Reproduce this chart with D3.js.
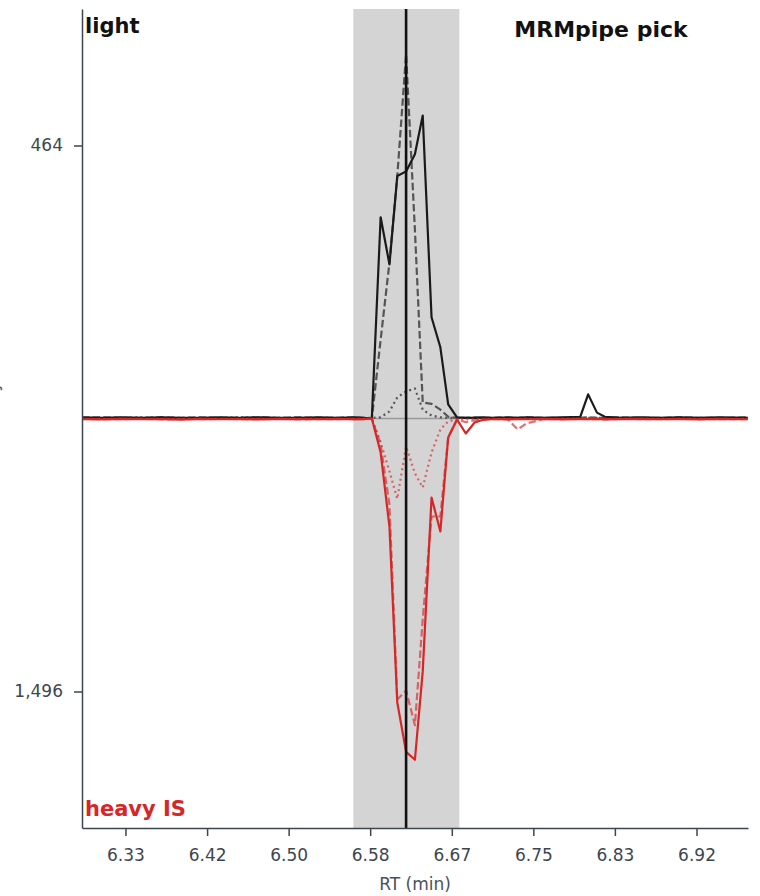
<!DOCTYPE html>
<html lang="en">
<head>
<meta charset="UTF-8">
<title>MRMpipe pick</title>
<script src="https://d3js.org/d3.v7.min.js"></script>
<style>
    body { margin: 0; background: #fff; }
    svg { display: block; font-family: "DejaVu Sans", sans-serif; }
    .axis path, .axis line { stroke: #3c4650; stroke-width: 1.5; }
    .axis text { fill: #3c4650; font-size: 17px; font-family: "DejaVu Sans", sans-serif; }
</style>
</head>
<body>
<svg width="760" height="896"></svg>
<script>
// retention times (min)
const rt = [6.289, 6.31, 6.33, 6.35, 6.37, 6.39, 6.41, 6.43, 6.45, 6.47, 6.49, 6.51, 6.53, 6.55, 6.568, 6.576,
    6.585, 6.594, 6.603, 6.611, 6.620, 6.629, 6.637, 6.646, 6.655, 6.663, 6.672, 6.681, 6.690, 6.698,
    6.707, 6.716, 6.724, 6.734, 6.743, 6.76, 6.78, 6.798, 6.806, 6.815, 6.823, 6.84, 6.86, 6.88, 6.90, 6.92, 6.94, 6.969];

// light transitions (plotted upwards)
const lightSolid = [2, 1, 2, 1, 2, 1, 1, 2, 1, 2, 1, 1, 2, 1, 2, 1,
    0, 342, 262, 412, 420, 449, 515, 172, 121, 24, 2, 1, 1, 2,
    1, 1, 2, 1, 2, 1, 2, 3, 41, 10, 3, 1, 2, 1, 2, 1, 2, 1];
const lightDashed = [1, 2, 1, 1, 2, 1, 2, 1, 1, 2, 1, 2, 1, 1, 2, 1,
    0, 134, 265, 412, 619, 321, 27, 25, 15, 3, 1, 1, 2, 1,
    1, 2, 1, 1, 2, 1, 1, 1, 2, 1, 1, 2, 1, 1, 2, 1, 1, 2];
const lightDotted = [1, 1, 1, 2, 1, 1, 1, 1, 2, 1, 1, 1, 1, 1, 1, 1,
    1, 2, 12, 36, 46, 51, 15, 5, 2, 1, 1, 1, 1, 1,
    1, 1, 1, 1, 1, 1, 1, 1, 1, 1, 1, 1, 1, 1, 1, 1, 1, 1];

// heavy IS transitions (plotted downwards)
const heavySolid = [3, 5, 2, 4, 3, 6, 2, 4, 3, 5, 2, 3, 4, 2, 5, 3,
    0, 186, 592, 1556, 1827, 1870, 1386, 433, 619, 104, 5, 82, 22, 8,
    4, 3, 5, 3, 4, 2, 5, 3, 4, 2, 5, 3, 2, 4, 3, 5, 2, 4];
const heavyDashed = [2, 4, 3, 2, 5, 3, 4, 2, 3, 4, 2, 5, 3, 3, 2, 4,
    0, 142, 472, 1540, 1490, 1680, 1101, 537, 537, 104, 5, 20, 10, 5,
    4, 3, 5, 60, 27, 4, 3, 2, 4, 3, 5, 2, 3, 4, 2, 3, 4, 3];
const heavyDotted = [1, 2, 1, 1, 2, 1, 1, 2, 1, 1, 2, 1, 1, 2, 1, 1,
    1, 130, 290, 440, 153, 300, 378, 186, 60, 16, 5, 3, 2, 2,
    1, 2, 1, 2, 1, 2, 1, 1, 2, 1, 1, 2, 1, 1, 2, 1, 2, 1];

const xTicks = [6.3333, 6.4167, 6.5, 6.5833, 6.6667, 6.75, 6.8333, 6.9167];
const lightMax = 696, heavyMax = 2244;
const lightTick = [464], heavyTick = [1496];
const pickWindow = [6.5661, 6.6744];
const pickApex = 6.62;

const margin = { top: 9, right: 12, bottom: 68, left: 82 };
const width = 760, height = 896;
const innerW = width - margin.left - margin.right;
const innerH = height - margin.top - margin.bottom;

const x = d3.scaleLinear().domain([6.2889, 6.9693]).range([0, innerW]);
const mid = innerH / 2;
const yLight = d3.scaleLinear().domain([0, lightMax]).range([mid, 0]);
const yHeavy = d3.scaleLinear().domain([0, heavyMax]).range([mid, innerH]);

const svg = d3.select("svg");
const g = svg.append("g").attr("transform", `translate(${margin.left},${margin.top})`);

g.append("rect")
    .attr("x", x(pickWindow[0]))
    .attr("width", x(pickWindow[1]) - x(pickWindow[0]))
    .attr("y", 0)
    .attr("height", innerH)
    .attr("fill", "#d4d4d4");

g.append("line")
    .attr("x1", 0).attr("x2", innerW)
    .attr("y1", mid).attr("y2", mid)
    .attr("stroke", "#999").attr("stroke-width", 1.5);

const series = [
    { vals: lightDotted, y: yLight, color: "#555", dash: "2,3.3", op: 1 },
    { vals: lightDashed, y: yLight, color: "#555", dash: "7.4,3.2", op: 1 },
    { vals: lightSolid, y: yLight, color: "#1a1a1a", dash: null, op: 1 },
    { vals: heavyDotted, y: yHeavy, color: "#d62728", dash: "2,3.3", op: 0.65 },
    { vals: heavyDashed, y: yHeavy, color: "#d62728", dash: "7.4,3.2", op: 0.65 },
    { vals: heavySolid, y: yHeavy, color: "#d62728", dash: null, op: 1 }
];

series.forEach(s => {
    const line = d3.line().x((d, i) => x(rt[i])).y(d => s.y(d));
    g.append("path")
        .datum(s.vals)
        .attr("d", line)
        .attr("fill", "none")
        .attr("stroke", s.color)
        .attr("stroke-opacity", s.op)
        .attr("stroke-width", 2.2)
        .attr("stroke-linejoin", "round")
        .attr("stroke-dasharray", s.dash);
});

g.append("line")
    .attr("x1", x(pickApex)).attr("x2", x(pickApex))
    .attr("y1", 0).attr("y2", innerH)
    .attr("stroke", "#111").attr("stroke-width", 2.6);

// axes
g.append("g").attr("class", "axis")
    .attr("transform", `translate(0,${innerH})`)
    .call(d3.axisBottom(x).tickValues(xTicks).tickFormat(d3.format(".2f")).tickSize(8).tickPadding(13).tickSizeOuter(0));

g.append("g").attr("class", "axis")
    .call(d3.axisLeft(yLight).tickValues(lightTick).tickFormat(d3.format(",")).tickSize(8).tickPadding(11).tickSizeOuter(0));
g.append("g").attr("class", "axis")
    .call(d3.axisLeft(yHeavy).tickValues(heavyTick).tickFormat(d3.format(",")).tickSize(8).tickPadding(11).tickSizeOuter(0));

g.append("text")
    .attr("x", innerW / 2).attr("y", innerH + 62)
    .attr("text-anchor", "middle")
    .attr("fill", "#4a525a").attr("font-size", 17)
    .text("RT (min)");

g.append("text")
    .attr("transform", `translate(${-margin.left - 2},${mid}) rotate(-90)`)
    .attr("text-anchor", "middle")
    .attr("fill", "#4a525a").attr("font-size", 17)
    .text("Intensity");

g.append("text")
    .attr("x", 3).attr("y", 24)
    .attr("font-size", 21).attr("font-weight", "bold").attr("fill", "#111")
    .text("light");

g.append("text")
    .attr("x", 3).attr("y", innerH - 12)
    .attr("font-size", 21).attr("font-weight", "bold").attr("fill", "#d62728")
    .text("heavy IS");

g.append("text")
    .attr("x", 519).attr("y", 28)
    .attr("text-anchor", "middle")
    .attr("font-size", 22).attr("font-weight", "bold").attr("fill", "#111")
    .text("MRMpipe pick");
</script>
</body>
</html>
